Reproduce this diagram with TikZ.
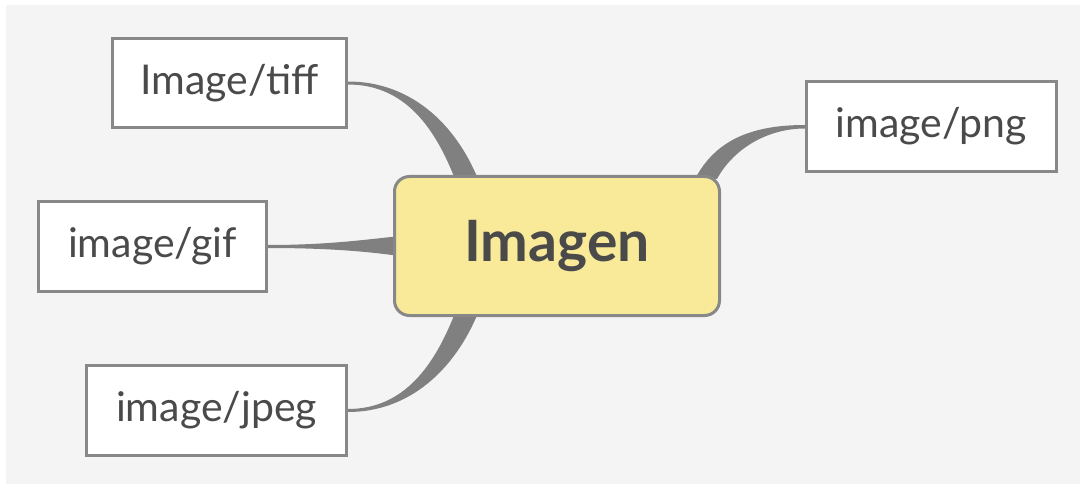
\documentclass[tikz,border=0pt]{standalone}
\usepackage{fontspec}
\setmainfont{Lato}
\usetikzlibrary{calc}
\definecolor{bgc}{HTML}{F4F4F4}
\definecolor{bord}{HTML}{888888}
\definecolor{connc}{HTML}{808080}
\definecolor{txt}{HTML}{4A4A4A}
\definecolor{yel}{HTML}{F8EA98}
\pgfdeclarelayer{bglayer}
\pgfdeclarelayer{connlayer}
\pgfsetlayers{bglayer,connlayer,main}
\tikzset{
  leaf/.style={draw=bord, fill=white, line width=3pt, inner sep=0pt, minimum height=90pt,
    text=txt, font=\fontsize{41}{48}\selectfont},
  central/.style={draw=bord, fill=yel, line width=3pt, rounded corners=15pt, inner sep=0pt,
    minimum width=325pt, minimum height=139pt, text=txt, font=\fontsize{57}{66}\selectfont\bfseries},
  conn/.style={fill=connc}
}
\begin{document}
\begin{tikzpicture}[x=1pt,y=-1pt]
\useasboundingbox (0,0) rectangle (1080,484);
\node[central] (img) at (557,246) {\raisebox{-4pt}{Imagen}};
\node[leaf, minimum width=234pt, minimum height=89pt] (tiff) at (229.5,83) {Image/tiff};
\node[leaf, minimum width=228pt] (gif) at (152.5,246.5) {image/gif};
\node[leaf, minimum width=260pt] (jpeg) at (216.5,410.5) {image/jpeg};
\node[leaf, minimum width=250pt] (png) at (931.5,126.5) {image/png};
\begin{pgfonlayer}{bglayer}
\fill[bgc] (6,5) rectangle (1080,484);
\end{pgfonlayer}
\begin{pgfonlayer}{connlayer}
\fill[conn] ($(tiff.east)+(0,-1.5)$) .. controls +(62,0) and +(-23,-56) .. ($(img.north)+(-79,4)$)
  -- ($(img.north)+(-102,4)$) .. controls +(-20,-51) and +(57,0) .. ($(tiff.east)+(0,1.5)$) -- cycle;
\fill[conn] ($(jpeg.east)+(0,1.5)$) .. controls +(62,0) and +(-23,56) .. ($(img.south)+(-79,-4)$)
  -- ($(img.south)+(-102,-4)$) .. controls +(-20,51) and +(57,0) .. ($(jpeg.east)+(0,-1.5)$) -- cycle;
\fill[conn] ($(gif.east)+(0,-1.5)$) .. controls +(60,0) and +(-30,3) .. ($(img.west)+(3,-9.5)$)
  -- ($(img.west)+(3,9.5)$) .. controls +(-30,-4) and +(60,0) .. ($(gif.east)+(0,1.5)$) -- cycle;
\fill[conn] ($(png.west)+(0,-1.5)$) .. controls +(-55,0) and +(20,-38) .. ($(img.north)+(138,4)$)
  -- ($(img.north)+(160,4)$) .. controls +(15,-28) and +(-40,0) .. ($(png.west)+(0,2)$) -- cycle;
\end{pgfonlayer}
\end{tikzpicture}
\end{document}
